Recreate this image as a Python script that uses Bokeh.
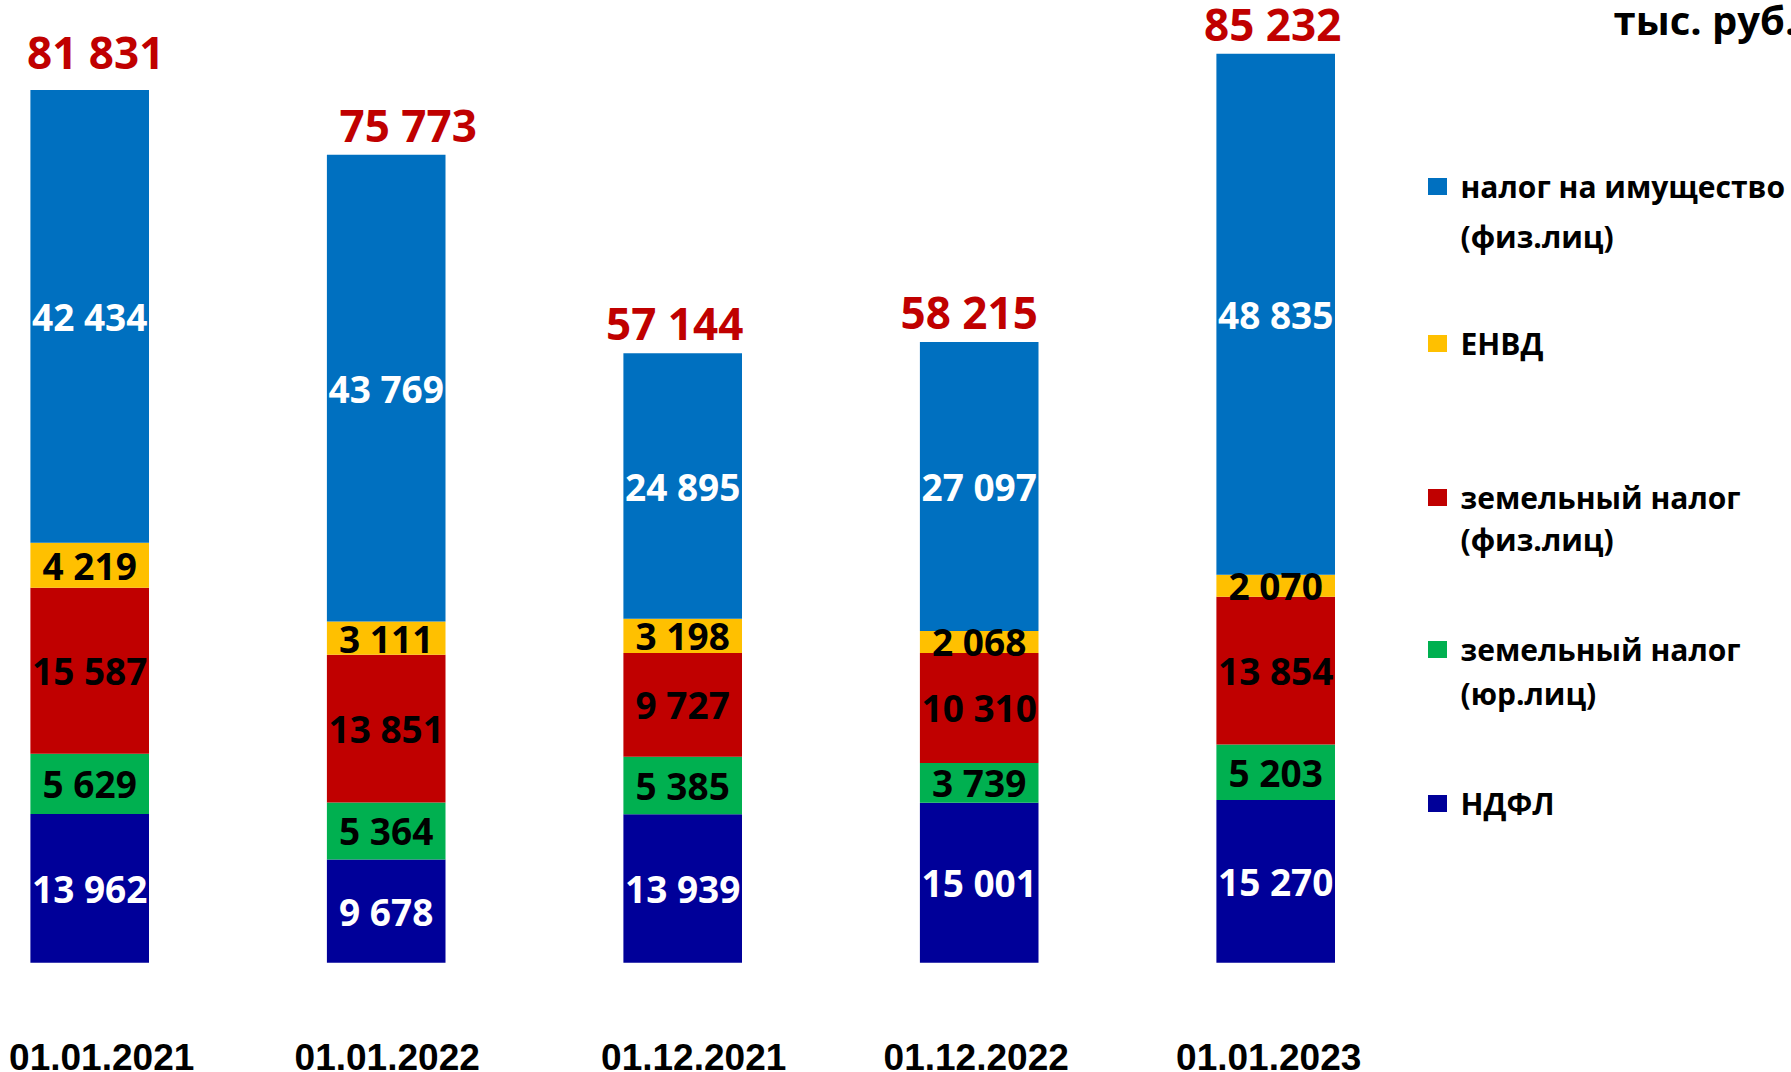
from bokeh.plotting import figure
from bokeh.models import Range1d, ColumnDataSource
from bokeh.core.properties import value
from bokeh.embed import file_html
from bokeh.resources import INLINE

# ---------------- data ----------------
dates = ["01.01.2021", "01.01.2022", "01.12.2021", "01.12.2022", "01.01.2023"]
ndfl = [13962, 9678, 13939, 15001, 15270]
land_legal = [5629, 5364, 5385, 3739, 5203]
land_phys = [15587, 13851, 9727, 10310, 13854]
envd = [4219, 3111, 3198, 2068, 2070]
property_tax = [42434, 43769, 24895, 27097, 48835]
totals = [81831, 75773, 57144, 58215, 85232]
legend_names = ["налог на имущество\n(физ.лиц)", "ЕНВД", "земельный налог\n(физ.лиц)",
                "земельный налог\n(юр.лиц)", "НДФЛ"]
unit_label = "тыс. руб."

# ---------------- style ----------------
W, H = 1791, 1072
PX_X = 296.5          # pixels per category step
X0 = -89.2 / PX_X     # first bar centre at 89 px
PX_Y = 0.010665       # pixels per thousand rub
Y_TOP = 962.3 / PX_Y  # zero line at 962 px from top

def fx(px):
    return X0 + px / PX_X

def fy(py):
    return Y_TOP - py / PX_Y

FONT = value("Open Sans")
stack_series = [ndfl, land_legal, land_phys, envd, property_tax]
stack_colors = ["#000099", "#00B050", "#C00000", "#FFC000", "#0070C0"]
label_colors = ["white", "black", "black", "black", "white"]
legend_order = [4, 3, 2, 1, 0]  # legend item index -> stack index
total_dx = [6, 22, -8, -10, -3]      # screen-pixel nudges of the total labels
total_dy = [-8, 0, 0, 0, 0]
date_dx = [12, 1, 11, -3, -7]        # screen-pixel nudges of the date labels

p = figure(width=W, height=H, output_backend="svg", toolbar_location=None,
           x_range=Range1d(X0, X0 + W / PX_X), y_range=Range1d(Y_TOP - H / PX_Y, Y_TOP),
           min_border=0, x_axis_location=None, y_axis_location=None)
p.grid.visible = False
p.outline_line_color = None
p.background_fill_color = "white"
p.border_fill_color = "white"

xs = list(range(len(dates)))
keys = ["s%d" % i for i in range(len(stack_series))]
src = ColumnDataSource(dict(x=xs, **{k: v for k, v in zip(keys, stack_series)}))
p.vbar_stack(keys, x="x", width=0.40, color=stack_colors, line_color=None, source=src)

# segment value labels
lx, ly, lt, lc = [], [], [], []
for si, series in enumerate(stack_series):
    for i, v in enumerate(series):
        base = sum(stack_series[k][i] for k in range(si))
        lx.append(i)
        ly.append(base + v / 2)
        lt.append(f"{v:,}".replace(",", " "))
        lc.append(label_colors[si])
p.text(x=lx, y=ly, text=lt, text_color=lc, text_font=FONT, text_font_style="bold",
       text_font_size="37px", text_align="center", text_baseline="middle")

# totals
tsrc = ColumnDataSource(dict(x=xs, y=[t + 30 / PX_Y for t in totals],
                             t=[f"{v:,}".replace(",", " ") for v in totals],
                             dx=total_dx, dy=total_dy))
p.text(x="x", y="y", text="t", x_offset="dx", y_offset="dy", source=tsrc,
       text_color="#C00000", text_font=FONT, text_font_style="bold",
       text_font_size="44px", text_align="center", text_baseline="middle")

# category labels
dsrc = ColumnDataSource(dict(x=xs, y=[fy(1056)] * len(xs), t=dates, dx=date_dx))
p.text(x="x", y="y", text="t", x_offset="dx", source=dsrc, text_color="black",
       text_font=value("Liberation Sans"), text_font_style="bold",
       text_font_size="37px", text_align="center", text_baseline="middle")

# unit label
p.text(x=[fx(1613)], y=[fy(19)], text=[unit_label], text_color="black", text_font=FONT,
       text_font_style="bold", text_font_size="40px", text_align="left",
       text_baseline="middle")

# legend
sq_y = [186, 343, 497, 649, 803]
line_gap = [50, 0, 42, 44, 0]
gx, gy, gc = [], [], []
tx, ty, tt = [], [], []
for li, name in enumerate(legend_names):
    si = legend_order[li]
    gx.append(fx(1437))
    gy.append(fy(sq_y[li]))
    gc.append(stack_colors[si])
    for j, line in enumerate(name.split("\n")):
        tx.append(fx(1460))
        ty.append(fy(sq_y[li] + j * line_gap[li]))
        tt.append(line)
p.rect(x=gx, y=gy, width=19, height=17, width_units="screen", height_units="screen",
       color=gc, line_color=None)
p.text(x=tx, y=ty, text=tt, text_color="black", text_font=FONT, text_font_style="bold",
       text_font_size="30px", text_align="left", text_baseline="middle")

open("out.html", "w").write(file_html(p, INLINE))
